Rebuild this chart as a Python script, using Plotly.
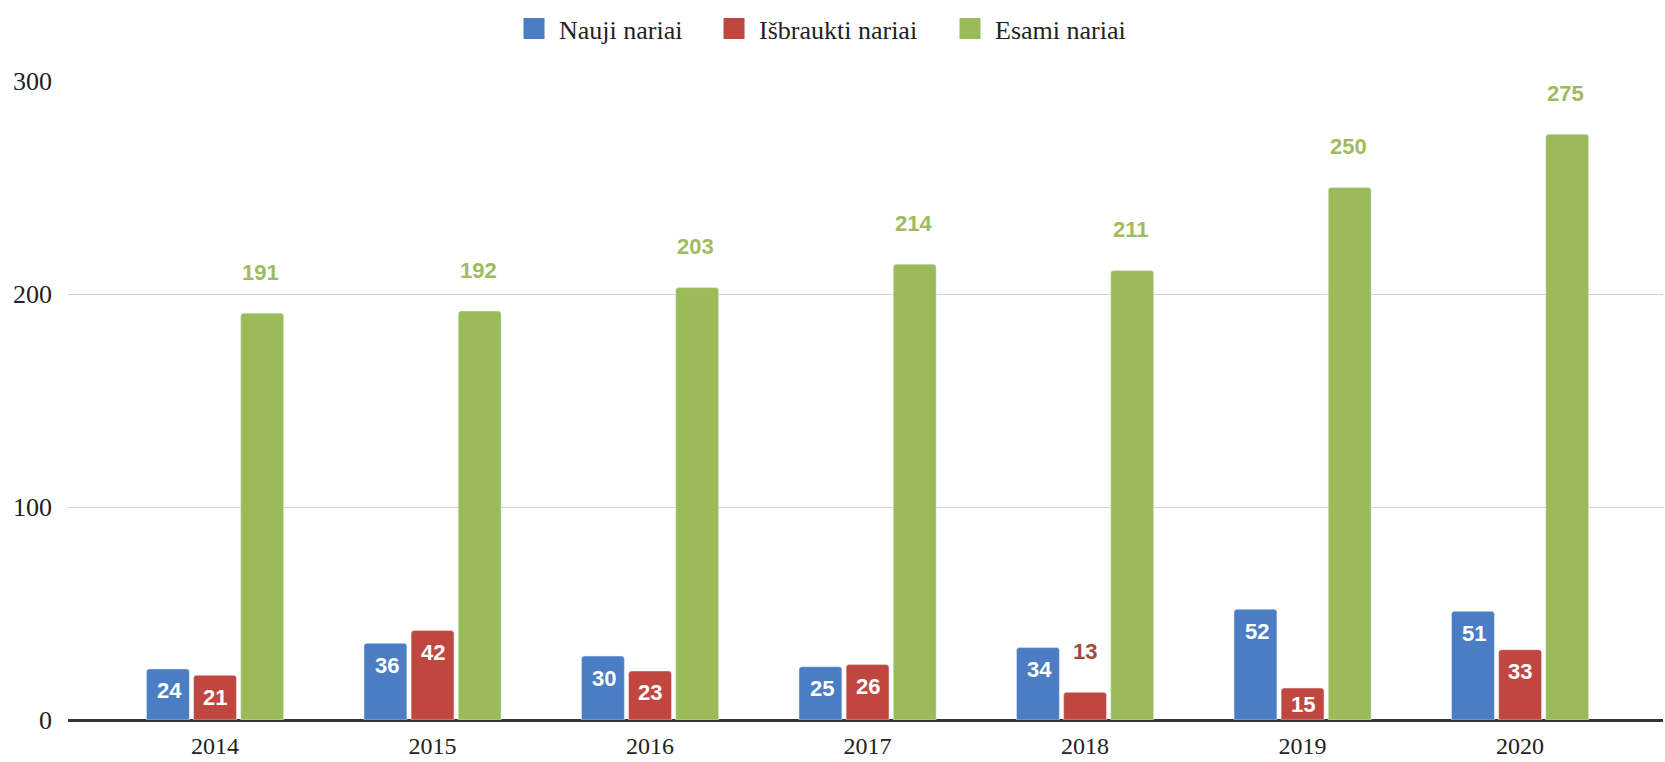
import plotly.graph_objects as go

years = ["2014", "2015", "2016", "2017", "2018", "2019", "2020"]
nauji = [24, 36, 30, 25, 34, 52, 51]
isbraukti = [21, 42, 23, 26, 13, 15, 33]
esami = [191, 192, 203, 214, 211, 250, 275]
series_names = ["Nauji nariai", "Išbraukti nariai", "Esami nariai"]
y_ticks = [0, 100, 200, 300]

colors = ["#4a7dc3", "#c0473f", "#9bbb59"]
label_colors = ["#4a7dc3", "#a04a40", "#9fbb5e"]
legend_widths = [145, 181, 150]

fig = go.Figure()
for name, vals, col in zip(series_names, [nauji, isbraukti, esami], colors):
    fig.add_trace(go.Bar(x=years, y=vals, name=name, marker=dict(color=col, cornerradius=3),
                         hoverinfo="x+y", showlegend=False, legendgroup=name))
# legend-only entries with larger square symbols
for name, col, lw in zip(series_names, colors, legend_widths):
    fig.add_trace(go.Scatter(x=[None], y=[None], mode="markers", name=name, legendgroup=name,
                             marker=dict(symbol="square", size=16, color=col,
                                         line=dict(color=col, width=5)),
                             legendwidth=lw, hoverinfo="skip"))

annotations = []
offsets = [-0.2, 0.0, 0.2]
label_font = "Liberation Sans, Arial, sans-serif"
for si, vals in enumerate([nauji, isbraukti, esami]):
    for i, v in enumerate(vals):
        if si == 2 or v < 14:
            annotations.append(dict(x=i + offsets[si] * 1.05, y=v, xref="x", yref="y",
                                    text="<b>%d</b>" % v, showarrow=False,
                                    yanchor="middle", yshift=41,
                                    font=dict(family=label_font, size=22, color=label_colors[si])))
        else:
            annotations.append(dict(x=i + offsets[si] * 1.05, y=max(v - 10.3, v / 2), xref="x", yref="y",
                                    text="<b>%d</b>" % v, showarrow=False,
                                    yanchor="middle",
                                    font=dict(family=label_font, size=22, color="white")))

serif = "Liberation Serif, Times New Roman, serif"
fig.update_layout(
    width=1665, height=762,
    margin=dict(l=68, r=2, t=81, b=42),
    paper_bgcolor="white", plot_bgcolor="white",
    barmode="group", bargap=0.35, bargroupgap=0.09,
    font=dict(family=serif, size=26, color="#222"),
    legend=dict(orientation="h", x=0.2765, xanchor="left", y=1.082, yanchor="middle",
                font=dict(family=serif, size=26, color="#222"), itemwidth=40),
    annotations=annotations,
    xaxis=dict(type="category", range=[-0.676, 6.657], showline=True, linecolor="#333",
               linewidth=2, showgrid=False, ticks="", ticklabelstandoff=3, automargin=False,
               tickfont=dict(family=serif, size=24, color="#222")),
    yaxis=dict(range=[0, 300], tickvals=y_ticks, showgrid=True, gridcolor="#d4d4d4",
               gridwidth=1, zeroline=True, zerolinecolor="#333", zerolinewidth=2,
               ticks="", ticklabelstandoff=15, automargin=False,
               tickfont=dict(family=serif, size=26, color="#222")),
)

fig.write_html("out.html", config={"displayModeBar": False},
               post_script="document.body.style.margin='0px';")
